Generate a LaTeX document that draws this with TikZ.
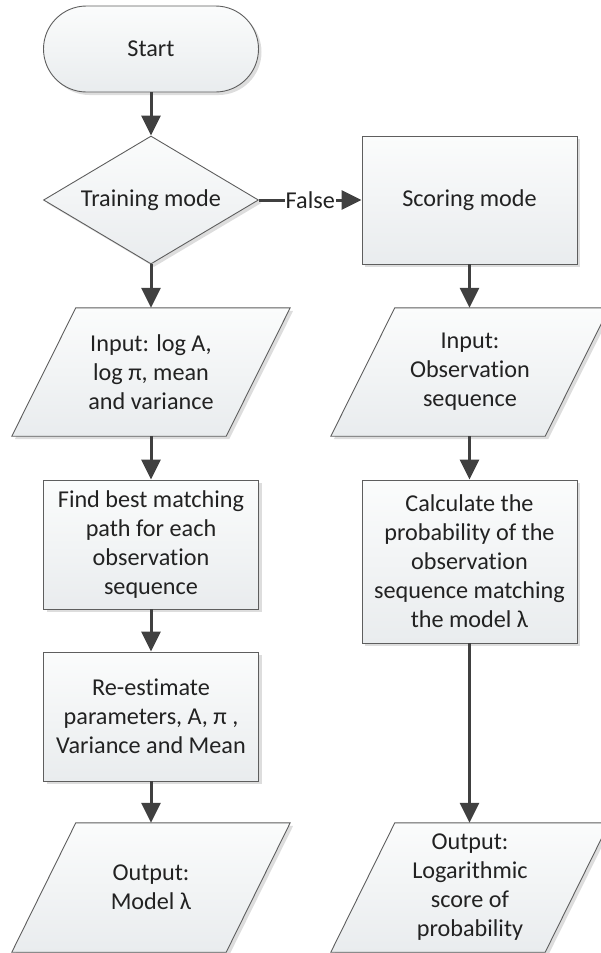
\documentclass[tikz,border=0pt]{standalone}
\usepackage{fontspec}
\setmainfont{Carlito}[Ligatures={NoCommon,NoRare}]
\usetikzlibrary{shapes.geometric,arrows.meta,shadows,calc}
\pgfdeclarelayer{bg}
\pgfsetlayers{bg,main}
\definecolor{edgec}{HTML}{5E5E5E}
\definecolor{arrc}{HTML}{404040}
\definecolor{txtc}{HTML}{222222}
\definecolor{boxtop}{HTML}{FBFCFC}
\definecolor{boxbot}{HTML}{E9ECEE}
\newcommand\flowfont{\fontsize{24.2}{29}\selectfont}
\newcommand\iobox[1]{%
  \begin{pgfonlayer}{bg}
  \path[boxfill] ($(#1.north west)+(32,0)$) -- ($(#1.north east)+(32,0)$) --
    ($(#1.south east)+(-32,0)$) -- ($(#1.south west)+(-32,0)$) -- cycle;
  \end{pgfonlayer}}
\begin{document}
\begin{tikzpicture}[x=1pt,y=-1pt,
  boxfill/.style={top color=boxtop, bottom color=boxbot, draw=edgec, line width=0.9pt,
    drop shadow={shadow xshift=3pt, shadow yshift=-3pt, fill=black!22, opacity=0.6}},
  proc/.style={boxfill, rectangle, minimum width=215pt, minimum height=128pt,
    align=center, font=\flowfont, text=txtc, inner sep=2pt},
  term/.style={proc, rounded corners=43pt, minimum height=86pt},
  dec/.style={boxfill, diamond, minimum width=215pt, minimum height=128pt,
    inner sep=0pt, aspect=1.68, align=center, font=\flowfont, text=txtc},
  iotext/.style={rectangle, minimum width=214pt, minimum height=128pt,
    align=center, font=\flowfont, text=txtc, inner sep=2pt},
  flow/.style={draw=arrc, line width=3pt, -{Triangle[length=20pt,width=19pt]}}
]
\useasboundingbox (0,0) rectangle (600,953);

\node[term] (start) at (151,49) {Start};
\node[dec] (train) at (151,200) {Training mode};
\node[proc] (score) at (469.5,200) {Scoring mode};
\node[iotext] (in1) at (151,372) {Input: log A,\\log π, mean\\and variance};
\iobox{in1}
\node[iotext] (in2) at (470,372) {Input:\\Observation\\sequence};
\iobox{in2}
\node[proc, minimum height=129pt] (find) at (151,544.5) {Find best matching\\path for each\\observation\\sequence};
\node[proc, minimum height=163pt] (calc) at (469.5,561.5) {Calculate the\\probability of the\\observation\\sequence matching\\the model λ};
\node[proc, minimum height=129pt] (reest) at (151,716.5) {Re-estimate\\parameters, A, π ,\\Variance and Mean};
\node[iotext, minimum height=129pt] (out1) at (151,887.5) {Output:\\Model λ};
\iobox{out1}
\node[iotext, minimum height=129pt] (out2) at (470,887.5) {Output:\\Logarithmic\\score of\\probability};
\iobox{out2}

\draw[flow] (start) -- (train);
\draw[flow] (train) -- (in1);
\draw[flow] (in1) -- (find);
\draw[flow] (find) -- (reest);
\draw[flow] (reest) -- (out1);
\draw[flow] (train.east) -- node[fill=white, inner sep=1pt, font=\flowfont, text=txtc] (lf) {False} (score.west);
\draw[flow] (score.south) -- (score.south |- in2.north);
\draw[flow] (in2.south -| calc.north) -- (calc.north);
\draw[flow] (calc.south) -- (calc.south |- out2.north);
\end{tikzpicture}
\end{document}
